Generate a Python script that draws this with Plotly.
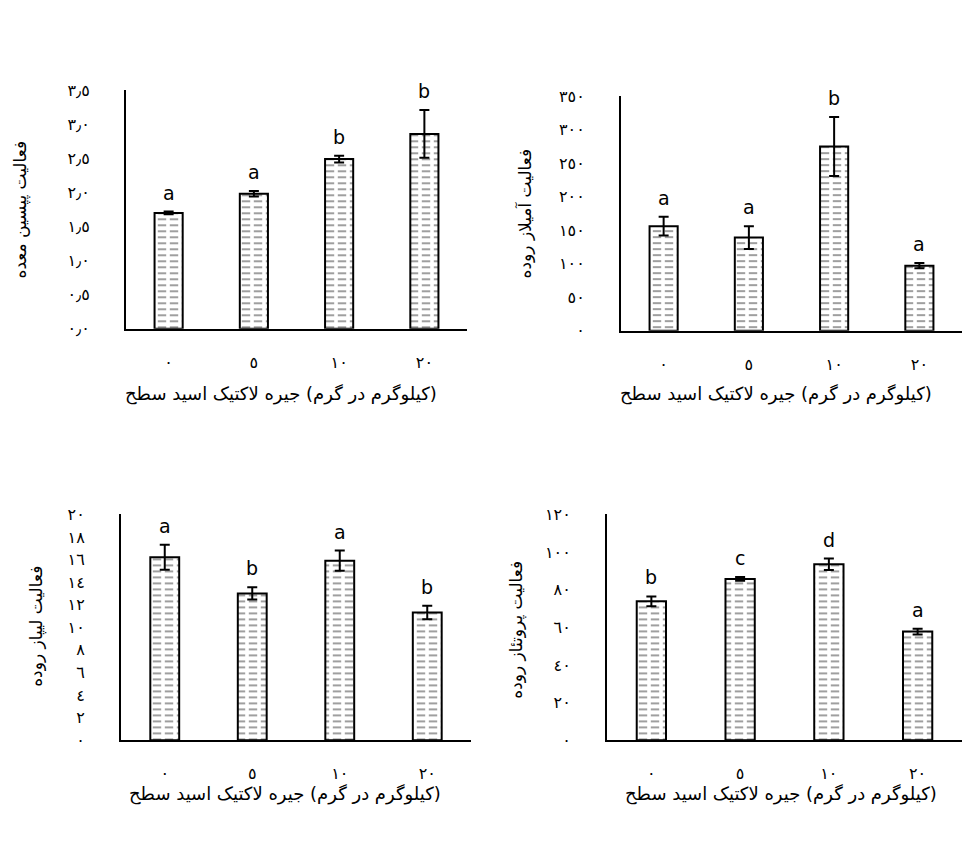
import plotly.graph_objects as go

# ---------------- data ----------------
categories = ["٠", "٥", "١٠", "٢٠"]

pepsin = [1.70, 1.98, 2.49, 2.86]
pepsin_err = [0.02, 0.04, 0.05, 0.35]
pepsin_letters = ["a", "a", "b", "b"]

amylase = [156, 139, 275, 97]
amylase_err = [14, 17, 44, 4]
amylase_letters = ["a", "a", "b", "a"]

lipase = [16.2, 13.0, 15.9, 11.3]
lipase_err = [1.1, 0.55, 0.9, 0.6]
lipase_letters = ["a", "b", "a", "b"]

protease = [73.8, 85.7, 93.5, 57.7]
protease_err = [2.6, 1.0, 3.0, 1.5]
protease_letters = ["b", "c", "d", "a"]

pepsin_tickvals = [0, 0.5, 1.0, 1.5, 2.0, 2.5, 3.0, 3.5]
pepsin_ticktext = ["٠٫٠", "٠٫٥", "١٫٠", "١٫٥", "٢٫٠", "٢٫٥", "٣٫٠", "٣٫٥"]
amylase_tickvals = [0, 50, 100, 150, 200, 250, 300, 350]
amylase_ticktext = ["٠", "٥٠", "١٠٠", "١٥٠", "٢٠٠", "٢٥٠", "٣٠٠", "٣٥٠"]
lipase_tickvals = [0, 2, 4, 6, 8, 10, 12, 14, 16, 18, 20]
lipase_ticktext = ["٠", "٢", "٤", "٦", "٨", "١٠", "١٢", "١٤", "١٦", "١٨", "٢٠"]
protease_tickvals = [0, 20, 40, 60, 80, 100, 120]
protease_ticktext = ["٠", "٢٠", "٤٠", "٦٠", "٨٠", "١٠٠", "١٢٠"]

y_titles = ["فعالیت پپسین معده", "فعالیت آمیلاز روده", "فعالیت لیپاز روده", "فعالیت پروتئاز روده"]
# the reference shows the words of this title laid out left-to-right; written in
# this word order (and rendered right-to-left) it reproduces that look
x_title = "(کیلوگرم در گرم) جیره لاکتیک اسید سطح"

# ---------------- layout constants (screen pixels) ----------------
OFF = 8                      # default page body margin
W, H = 974 - OFF, 842 - OFF
FONT = "DejaVu Sans"


def px(x):
    return (x - OFF) / W


def py(y):
    return 1 - (y - OFF) / H


panels = [
    (pepsin, pepsin_err, pepsin_letters, pepsin_tickvals, pepsin_ticktext, 3.5,
     (126, 467, 83, 327), (21, 205), (281, 394)),
    (amylase, amylase_err, amylase_letters, amylase_tickvals, amylase_ticktext, 350,
     (621, 962, 89, 329), (524, 209), (776, 394)),
    (lipase, lipase_err, lipase_letters, lipase_tickvals, lipase_ticktext, 20,
     (121, 471, 517, 748), (37, 632), (285, 803)),
    (protease, protease_err, protease_letters, protease_tickvals, protease_ticktext, 120,
     (607, 962, 517, 748), (517, 635), (781, 803)),
]

x_title_display = "\u200f" + x_title + "\u200f"

fig = go.Figure()
layout = dict(
    width=W, height=H, autosize=False,
    margin=dict(l=0, r=0, t=0, b=0),
    paper_bgcolor="white", plot_bgcolor="white",
    barmode="overlay", bargap=0.67,
    showlegend=False,
    font=dict(family=FONT, color="black"),
)
annotations = []

for i, (vals, errs, letters, tv, tt, ymax, box, ypos, xpos) in enumerate(panels):
    sfx = "" if i == 0 else str(i + 1)
    xa, ya = "x" + sfx, "y" + sfx
    x0, x1, yt, yb = box

    fig.add_trace(go.Bar(
        x=categories, y=vals, xaxis=xa, yaxis=ya,
        marker=dict(color="white", line=dict(width=0),
                    pattern=dict(shape="-", fgcolor="#000000", bgcolor="white",
                                 size=6, solidity=0.25)),
        hoverinfo="skip",
    ))
    fig.add_trace(go.Bar(
        x=categories, y=vals, xaxis=xa, yaxis=ya,
        marker=dict(color="rgba(0,0,0,0)", line=dict(color="black", width=2),
                    pattern=dict(shape="|", fgcolor="white", bgcolor="rgba(0,0,0,0)",
                                 size=12, solidity=0.3, fillmode="replace")),
        error_y=dict(type="data", array=errs, visible=True, color="black",
                     thickness=2, width=5),
    ))

    layout["xaxis" + sfx] = dict(
        domain=[px(x0), px(x1)], anchor=ya,
        showline=True, linecolor="black", linewidth=2, mirror=False,
        ticks="", showgrid=False, zeroline=False,
        tickfont=dict(size=16, family=FONT, color="black"),
        ticklabelstandoff=18, fixedrange=True,
    )
    layout["yaxis" + sfx] = dict(
        domain=[py(yb), py(yt)], anchor=xa,
        range=[0, ymax], tickvals=tv, ticktext=tt,
        showline=True, linecolor="black", linewidth=2,
        ticks="", showgrid=False, zeroline=False,
        tickfont=dict(size=16, family=FONT, color="black"),
        ticklabelstandoff=31, fixedrange=True,
    )

    for c, v, e, L in zip(categories, vals, errs, letters):
        annotations.append(dict(
            x=c, y=v + e, xref=xa, yref=ya, text=L, showarrow=False,
            yanchor="bottom", yshift=6,
            font=dict(size=19, family=FONT, color="black"),
        ))

    annotations.append(dict(
        x=px(ypos[0]), y=py(ypos[1]), xref="paper", yref="paper",
        text=y_titles[i], textangle=-90, showarrow=False,
        xanchor="center", yanchor="middle",
        font=dict(size=17, family=FONT, color="black"),
    ))
    annotations.append(dict(
        x=px(xpos[0]), y=py(xpos[1]), xref="paper", yref="paper",
        text=x_title_display, showarrow=False,
        xanchor="center", yanchor="middle",
        font=dict(size=18, family=FONT, color="black"),
    ))

layout["annotations"] = annotations
fig.update_layout(**layout)
fig.write_html("out.html")
